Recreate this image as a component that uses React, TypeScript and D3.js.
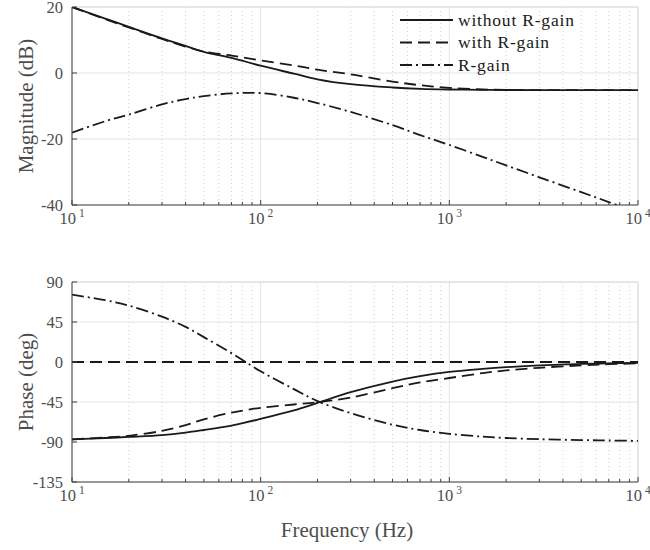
import React from 'react';
import * as d3 from 'd3';

// frequency grid (Hz) the curves were read at
const freqs = [10, 15, 20, 30, 40, 50, 70, 100, 150, 200, 300, 500, 700, 1000, 1500, 2000, 3000, 5000, 7000, 10000];

// magnitude (dB)
const magWithout = [20.0, 16.5, 14.0, 10.5, 8.2, 6.4, 4.6, 2.2, -0.2, -1.9, -3.4, -4.4, -4.8, -5.0, -5.1, -5.15, -5.2, -5.2, -5.2, -5.2];
const magWith = [20.0, 16.3, 13.8, 10.3, 8.0, 6.5, 5.3, 3.8, 2.3, 1.0, -0.4, -2.6, -3.7, -4.5, -5.0, -5.1, -5.2, -5.2, -5.2, -5.2];
const magRGain = [-18.1, -14.6, -12.6, -9.5, -7.9, -7.0, -6.2, -6.1, -7.5, -9.1, -11.8, -15.8, -18.8, -21.8, -25.4, -28.0, -31.6, -36.1, -39.1, -42.3];

// phase (deg)
const phWithout = [-87, -85.5, -84.3, -82.3, -79.5, -76.5, -71.5, -64, -54.5, -46, -34, -22, -16, -11.2, -7.8, -5.8, -3.7, -2.2, -1.5, -1.0];
const phWith = [-87, -85, -83, -77.5, -71, -64.5, -57, -51.5, -47.8, -45.2, -40, -29.5, -23, -18, -12.5, -9.5, -6.5, -3.8, -2.5, -1.5];
const phRGain = [75.7, 69.5, 63.5, 51, 39.5, 28, 10, -10.5, -30.5, -44, -57.5, -70.5, -76.5, -80.8, -84, -85.5, -86.8, -87.8, -88.3, -88.7];
const phZeroFreqs = [10, 10000];
const phZero = [0, 0];

const magTicks = [-40, -20, 0, 20];
const phTicks = [-135, -90, -45, 0, 45, 90];
const decades = [10, 100, 1000, 10000];
const expLabels = ['1', '2', '3', '4'];

const legendNames = ['without R-gain', 'with R-gain', 'R-gain'];

const FONT = 'Liberation Serif';
const TEXT = '#4d4d4d';
const INK = '#1a1a1a';
const DASH = '12,6';
const DASHDOT = '12,4,2,4';

const left = 72;
const right = 638;

const x = d3.scaleLog().domain([10, 10000]).range([left, right]);
const minorTicks: number[] = [];
[10, 100, 1000].forEach((d) => {
  for (let k = 2; k <= 9; k++) minorTicks.push(d * k);
});

type Series = { fx: number[]; vals: number[]; dash?: string };

function Panel({ id, top, bottom, domain, ticks, label, series }: {
  id: string; top: number; bottom: number; domain: [number, number]; ticks: number[]; label: string; series: Series[];
}) {
  const y = d3.scaleLinear().domain(domain).range([bottom, top]);
  const line = d3.line<[number, number]>()
    .x((d) => x(d[0]))
    .y((d) => y(d[1]))
    .curve(d3.curveCatmullRom.alpha(0.5));

  return (
    <g>
      <defs>
        <clipPath id={id}>
          <rect x={left} y={top} width={right - left} height={bottom - top} />
        </clipPath>
      </defs>
      {/* minor grid */}
      {minorTicks.map((t) => (
        <line key={'m' + t} x1={x(t)} x2={x(t)} y1={top} y2={bottom} stroke="#cfcfcf" strokeDasharray="1,3" />
      ))}
      {/* major grid */}
      {decades.map((t) => (
        <line key={'d' + t} x1={x(t)} x2={x(t)} y1={top} y2={bottom} stroke="#e3e3e3" />
      ))}
      {ticks.map((t) => (
        <line key={'y' + t} x1={left} x2={right} y1={y(t)} y2={y(t)} stroke="#e3e3e3" />
      ))}
      {/* box */}
      <line x1={left} x2={right} y1={top} y2={top} stroke="#dcdcdc" />
      <line x1={right} x2={right} y1={top} y2={bottom} stroke="#dcdcdc" />
      {/* curves */}
      <g clipPath={`url(#${id})`}>
        {series.map((s, i) => (
          <path key={i} d={line(s.fx.map((f, j) => [f, s.vals[j]]) as [number, number][]) || ''}
            fill="none" stroke={INK} strokeWidth={1.8} strokeDasharray={s.dash} />
        ))}
      </g>
      {/* axes */}
      <line x1={left} x2={left} y1={top} y2={bottom} stroke="#404040" />
      <line x1={left} x2={right} y1={bottom} y2={bottom} stroke="#404040" />
      {ticks.map((t) => (
        <g key={'yt' + t}>
          <line x1={left} x2={left + 5} y1={y(t)} y2={y(t)} stroke="#404040" />
          <text x={left - 9} y={y(t) + 6} textAnchor="end" fontSize={16.5} fill={TEXT} fontFamily={FONT}>{t}</text>
        </g>
      ))}
      {minorTicks.map((t) => (
        <line key={'mt' + t} x1={x(t)} x2={x(t)} y1={bottom} y2={bottom - 3} stroke="#404040" />
      ))}
      {decades.map((t, i) => (
        <g key={'xt' + t}>
          <line x1={x(t)} x2={x(t)} y1={bottom} y2={bottom - 5} stroke="#404040" />
          <text x={x(t)} y={bottom + 19} textAnchor="middle" fontSize={16.5} fill={TEXT} fontFamily={FONT}>
            10<tspan dx={3} dy={-7} fontSize={11.5}>{expLabels[i]}</tspan>
          </text>
        </g>
      ))}
      <text transform={`translate(33,${(top + bottom) / 2}) rotate(-90)`} textAnchor="middle" fontSize={21} fill={TEXT} fontFamily={FONT}>{label}</text>
    </g>
  );
}

export default function App() {
  const dashes = [undefined, DASH, DASHDOT];
  return (
    <svg width={650} height={550} style={{ position: 'absolute', left: 0, top: 0, background: '#fff' }}>
      <Panel id="clipMag" top={7} bottom={205} domain={[-40, 20]} ticks={magTicks} label="Magnitude (dB)"
        series={[
          { fx: freqs, vals: magWithout },
          { fx: freqs, vals: magWith, dash: DASH },
          { fx: freqs, vals: magRGain, dash: DASHDOT },
        ]} />
      <Panel id="clipPh" top={282} bottom={482} domain={[-135, 90]} ticks={phTicks} label="Phase (deg)"
        series={[
          { fx: phZeroFreqs, vals: phZero, dash: DASH },
          { fx: freqs, vals: phWithout },
          { fx: freqs, vals: phWith, dash: DASH },
          { fx: freqs, vals: phRGain, dash: DASHDOT },
        ]} />
      <text x={347} y={537} textAnchor="middle" fontSize={21} fill={TEXT} fontFamily={FONT}>Frequency (Hz)</text>
      {/* legend */}
      {legendNames.map((name, i) => {
        const ly = 20 + i * 22.5;
        return (
          <g key={name}>
            <line x1={400} x2={453} y1={ly} y2={ly} stroke={INK} strokeWidth={1.8} strokeDasharray={dashes[i]} />
            <text x={458} y={ly + 5.5} fontSize={17.5} letterSpacing={0.8} fill={INK} fontFamily={FONT}>{name}</text>
          </g>
        );
      })}
    </svg>
  );
}
